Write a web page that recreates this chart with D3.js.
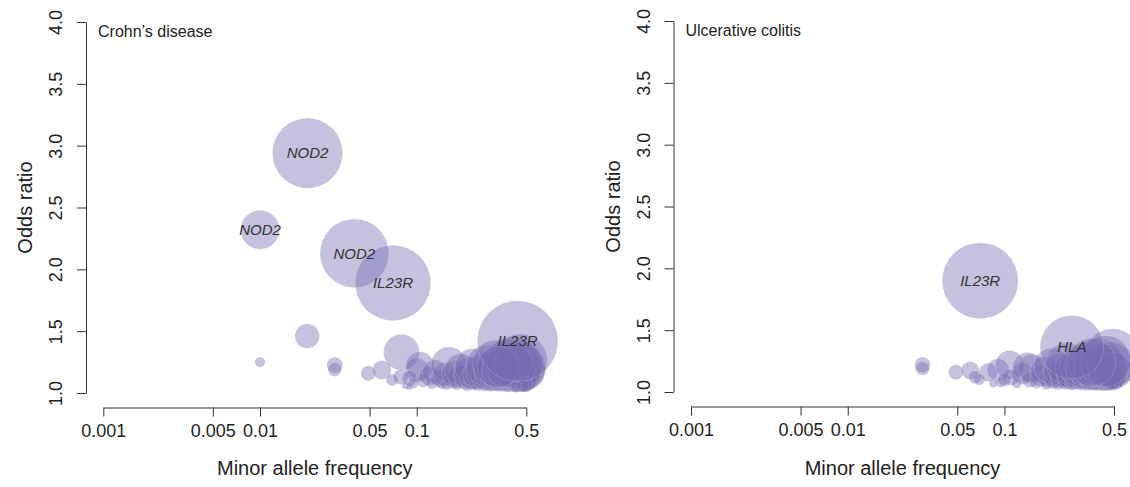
<!DOCTYPE html>
<html>
<head>
<meta charset="utf-8">
<script src="https://cdn.jsdelivr.net/npm/d3@7"></script>
<style>
  body { margin: 0; background: #fff; }
  text { font-family: "Liberation Sans", Arial, Helvetica, sans-serif; fill: #222; }
</style>
</head>
<body>
<div id="chart"></div>
<script>
// minor allele frequency, odds ratio, gene label
const cdLabelled = [
  [0.0201, 2.94, "NOD2"],
  [0.010, 2.32, "NOD2"],
  [0.040, 2.13, "NOD2"],
  [0.0705, 1.89, "IL23R"],
  [0.44, 1.42, "IL23R"]
];
const ucLabelled = [
  [0.070, 1.90, "IL23R"],
  [0.269, 1.362, "HLA"]
];

// remaining loci, [maf, odds ratio]
const cdOther = [
  [0.020, 1.46], [0.010, 1.25], [0.030, 1.225], [0.030, 1.19], [0.080, 1.33],
  [0.049, 1.16], [0.060, 1.186], [0.0695, 1.105], [0.079, 1.13], [0.10, 1.186],
  [0.09, 1.05], [0.105, 1.22], [0.11, 1.10], [0.12, 1.14], [0.125, 1.08],
  [0.13, 1.17], [0.14, 1.12], [0.145, 1.09], [0.15, 1.15], [0.16, 1.23],
  [0.155, 1.07], [0.09, 1.12], [0.095, 1.08], [0.085, 1.06], [0.17, 1.11],
  [0.175, 1.16], [0.18, 1.08], [0.185, 1.13], [0.19, 1.19], [0.20, 1.10],
  [0.205, 1.14], [0.21, 1.06], [0.215, 1.17], [0.22, 1.12], [0.225, 1.09],
  [0.23, 1.21], [0.235, 1.11], [0.24, 1.15], [0.245, 1.07], [0.25, 1.13],
  [0.26, 1.18], [0.265, 1.10], [0.27, 1.14], [0.275, 1.08], [0.28, 1.22],
  [0.285, 1.12], [0.29, 1.16], [0.295, 1.06], [0.30, 1.11], [0.305, 1.19],
  [0.31, 1.09], [0.315, 1.14], [0.32, 1.24], [0.325, 1.12], [0.33, 1.07],
  [0.335, 1.17], [0.34, 1.10], [0.345, 1.13], [0.35, 1.20], [0.36, 1.08],
  [0.365, 1.15], [0.37, 1.11], [0.375, 1.18], [0.38, 1.06], [0.385, 1.13],
  [0.39, 1.22], [0.395, 1.09], [0.40, 1.16], [0.405, 1.12], [0.41, 1.25],
  [0.415, 1.07], [0.42, 1.14], [0.425, 1.10], [0.43, 1.19], [0.435, 1.12],
  [0.44, 1.22], [0.445, 1.08], [0.45, 1.15], [0.455, 1.11], [0.46, 1.26],
  [0.465, 1.13], [0.47, 1.17], [0.475, 1.09], [0.48, 1.21], [0.485, 1.12],
  [0.49, 1.15], [0.495, 1.10], [0.50, 1.18], [0.45, 1.23], [0.42, 1.20],
  [0.38, 1.24], [0.47, 1.06], [0.33, 1.21], [0.49, 1.07], [0.43, 1.05]
];
const ucOther = [
  [0.49, 1.28], [0.030, 1.22], [0.030, 1.19], [0.049, 1.16], [0.0605, 1.175],
  [0.069, 1.10], [0.079, 1.16], [0.091, 1.18], [0.108, 1.22], [0.095, 1.08],
  [0.11, 1.12], [0.12, 1.07], [0.13, 1.15], [0.14, 1.20], [0.15, 1.19],
  [0.145, 1.10], [0.16, 1.08], [0.17, 1.13], [0.18, 1.17], [0.185, 1.06],
  [0.19, 1.11], [0.20, 1.21], [0.205, 1.09], [0.21, 1.14], [0.22, 1.07],
  [0.225, 1.18], [0.23, 1.12], [0.24, 1.16], [0.245, 1.08], [0.25, 1.23],
  [0.255, 1.11], [0.26, 1.14], [0.27, 1.06], [0.275, 1.19], [0.28, 1.10],
  [0.29, 1.15], [0.295, 1.12], [0.30, 1.20], [0.31, 1.08], [0.315, 1.17],
  [0.32, 1.11], [0.33, 1.14], [0.335, 1.22], [0.34, 1.07], [0.35, 1.16],
  [0.355, 1.10], [0.36, 1.13], [0.37, 1.19], [0.375, 1.09], [0.38, 1.15],
  [0.39, 1.11], [0.395, 1.24], [0.40, 1.08], [0.41, 1.17], [0.415, 1.12],
  [0.42, 1.14], [0.43, 1.21], [0.435, 1.06], [0.44, 1.16], [0.45, 1.11],
  [0.455, 1.19], [0.46, 1.13], [0.47, 1.09], [0.475, 1.22], [0.48, 1.15],
  [0.49, 1.12], [0.50, 1.17], [0.44, 1.25], [0.36, 1.24], [0.065, 1.12],
  [0.085, 1.07], [0.10, 1.10]
];

const xTicks = [0.001, 0.005, 0.01, 0.05, 0.1, 0.5];
const yTicks = [1.0, 1.5, 2.0, 2.5, 3.0, 3.5, 4.0];

const svg = d3.select('#chart')
  .append('svg')
  .attr('width', 1130)
  .attr('height', 487);

// bubble area follows variance explained, f(1-f)(ln OR)^2
const rScale = d3.scaleSqrt().domain([0, 1]).range([0, 232]);
const varExp = d => d[0] * (1 - d[0]) * Math.pow(Math.log(d[1]), 2);

function drawPanel(opt) {
  const x = d3.scaleLog().domain([0.001, 0.5]).range([opt.x0, opt.x0 + 423]);
  const y = d3.scaleLinear().domain([1, 4]).range([opt.yBottom, opt.yBottom - 371]);
  const g = svg.append('g');

  // y axis
  const yAxis = g.append('g')
    .attr('transform', `translate(${opt.yAxisX},0)`)
    .call(d3.axisLeft(y).tickValues(yTicks).tickSize(9).tickSizeOuter(0).tickFormat(d3.format('.1f')));
  yAxis.selectAll('text')
    .attr('transform', 'rotate(-90)')
    .attr('x', 0)
    .attr('y', -24)
    .attr('dy', 0)
    .style('text-anchor', 'middle')
    .style('font-size', '18px')
    .style('font-family', '"Liberation Sans", Arial, sans-serif');

  // x axis
  const xAxis = g.append('g')
    .attr('transform', `translate(0,${opt.xAxisY})`)
    .call(d3.axisBottom(x).tickValues(xTicks).tickSize(9).tickSizeOuter(0).tickFormat(d => String(d)));
  xAxis.selectAll('text')
    .attr('y', 29)
    .attr('dy', 0)
    .style('font-size', '18px')
    .style('font-family', '"Liberation Sans", Arial, sans-serif');

  g.selectAll('.domain, .tick line').attr('stroke', '#333');
  g.selectAll('.tick text').attr('fill', '#222');

  // bubbles
  const pts = opt.other.concat(opt.labelled);
  g.append('g')
    .selectAll('circle')
    .data(pts)
    .enter()
    .append('circle')
    .attr('cx', d => x(d[0]))
    .attr('cy', d => y(d[1]))
    .attr('r', d => rScale(varExp(d)))
    .attr('fill', '#756bb1')
    .attr('fill-opacity', 0.42)
    .attr('stroke', '#ffffff')
    .attr('stroke-opacity', 0.3)
    .attr('stroke-width', 0.6);

  // gene labels
  g.append('g')
    .selectAll('text')
    .data(opt.labelled)
    .enter()
    .append('text')
    .attr('x', d => x(d[0]))
    .attr('y', d => y(d[1]))
    .attr('dy', '0.35em')
    .style('text-anchor', 'middle')
    .style('font-size', '15px')
    .style('font-style', 'italic')
    .style('fill', '#333')
    .text(d => d[2]);

  // titles
  g.append('text')
    .attr('x', opt.yAxisX + 12)
    .attr('y', opt.yBottom - 356)
    .style('font-size', '16px')
    .text(opt.title);

  g.append('text')
    .attr('x', (opt.x0 + opt.x0 + 423) / 2)
    .attr('y', 475)
    .style('text-anchor', 'middle')
    .style('font-size', '20px')
    .text('Minor allele frequency');

  g.append('text')
    .attr('transform', `translate(${opt.yAxisX - 54},${opt.yBottom - 185.5}) rotate(-90)`)
    .style('text-anchor', 'middle')
    .style('font-size', '20px')
    .text('Odds ratio');
}

drawPanel({
  title: 'Crohn\u2019s disease', x0: 103.3, yAxisX: 86, yBottom: 393, xAxisY: 407.5,
  labelled: cdLabelled, other: cdOther
});
drawPanel({
  title: 'Ulcerative colitis', x0: 691, yAxisX: 673.5, yBottom: 392, xAxisY: 406.5,
  labelled: ucLabelled, other: ucOther
});
</script>
</body>
</html>
